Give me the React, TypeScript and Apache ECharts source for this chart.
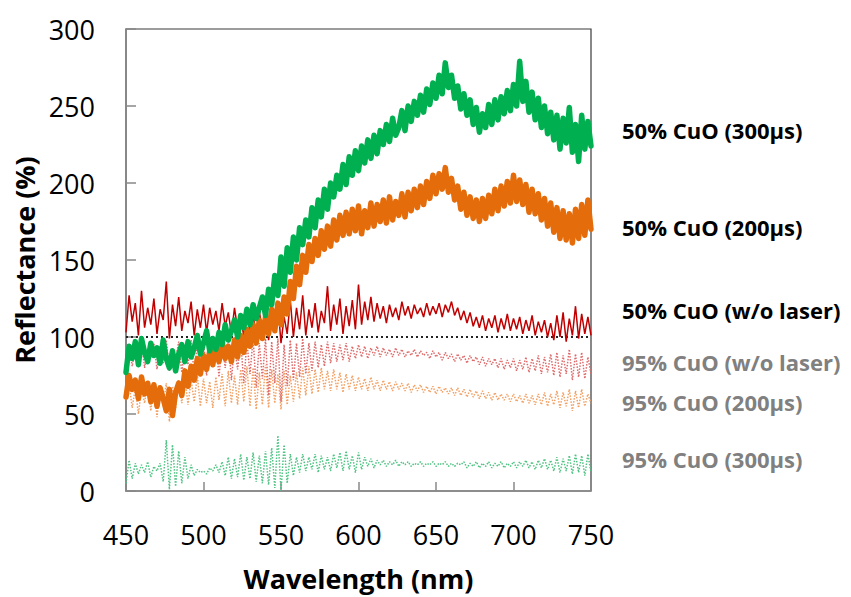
import React, { useEffect, useRef } from "react";
import * as echarts from "echarts";

const wavelengths = [
  450, 452, 454, 456, 458, 460, 462, 464, 466, 468, 470, 472, 474, 476, 478, 480, 482, 484, 486, 488,
  490, 492, 494, 496, 498, 500, 502, 504, 506, 508, 510, 512, 514, 516, 518, 520, 522, 524, 526, 528,
  530, 532, 534, 536, 538, 540, 542, 544, 546, 548, 550, 552, 554, 556, 558, 560, 562, 564, 566, 568,
  570, 572, 574, 576, 578, 580, 582, 584, 586, 588, 590, 592, 594, 596, 598, 600, 602, 604, 606, 608,
  610, 612, 614, 616, 618, 620, 622, 624, 626, 628, 630, 632, 634, 636, 638, 640, 642, 644, 646, 648,
  650, 652, 654, 656, 658, 660, 662, 664, 666, 668, 670, 672, 674, 676, 678, 680, 682, 684, 686, 688,
  690, 692, 694, 696, 698, 700, 702, 704, 706, 708, 710, 712, 714, 716, 718, 720, 722, 724, 726, 728,
  730, 732, 734, 736, 738, 740, 742, 744, 746, 748, 750,
];

const cuo50_300 = [
  77, 94, 86, 97, 82, 99, 90, 84, 96, 88, 93, 83, 98, 86, 80, 91, 78, 89, 95, 84,
  97, 87, 93, 101, 89, 96, 104, 91, 99, 92, 103, 95, 108, 98, 104, 111, 100, 114, 106, 118,
  108, 121, 112, 119, 126, 114, 131, 121, 140, 127, 152, 133, 158, 142, 165, 150, 171, 160, 176, 165,
  184, 171, 189, 178, 196, 183, 200, 191, 205, 196, 212, 199, 217, 205, 221, 208, 224, 213, 228, 216,
  231, 219, 234, 225, 238, 227, 242, 231, 236, 247, 234, 250, 240, 253, 244, 257, 246, 261, 251, 265,
  255, 270, 258, 278, 262, 270, 255, 263, 248, 258, 244, 254, 238, 249, 233, 245, 236, 251, 238, 254,
  241, 256, 245, 260, 247, 264, 250, 279, 253, 266, 246, 259, 241, 255, 236, 250, 232, 246, 228, 244,
  222, 242, 226, 249, 220, 238, 214, 244, 222, 240, 224,
];

const cuo50_200 = [
  61, 75, 66, 72, 60, 74, 63, 70, 58, 69, 55, 67, 60, 52, 66, 49, 64, 70, 62, 78,
  68, 81, 72, 86, 76, 88, 79, 91, 82, 95, 84, 97, 86, 94, 84, 98, 87, 101, 90, 105,
  94, 108, 96, 111, 99, 113, 102, 118, 104, 122, 108, 126, 115, 136, 125, 146, 134, 153, 142, 160,
  149, 164, 153, 169, 157, 172, 159, 176, 163, 179, 166, 181, 167, 183, 169, 185, 167, 182, 171, 187,
  172, 186, 175, 189, 174, 191, 176, 188, 179, 193, 178, 194, 182, 196, 184, 198, 186, 201, 190, 205,
  193, 206, 196, 210, 194, 203, 189, 198, 183, 194, 179, 191, 177, 189, 175, 190, 177, 192, 180, 196,
  182, 198, 185, 201, 187, 205, 188, 202, 186, 199, 181, 196, 180, 193, 176, 190, 172, 187, 168, 184,
  164, 182, 163, 180, 161, 183, 164, 186, 166, 189, 170,
];

const cuo50_noLaser = [
  103, 127, 110, 122, 101, 130, 106, 119, 108, 125, 102, 118, 111, 136, 99, 121, 107, 126, 104, 117,
  109, 123, 101, 118, 106, 121, 103, 119, 108, 117, 104, 122, 107, 116, 102, 119, 105, 114, 100, 118,
  104, 115, 99, 117, 103, 119, 98, 116, 105, 121, 96, 113, 102, 124, 100, 119, 105, 127, 101, 118,
  106, 122, 103, 117, 109, 133, 104, 121, 108, 125, 102, 120, 107, 124, 105, 134, 108, 123, 111, 126,
  110, 122, 112, 120, 109, 121, 113, 119, 111, 123, 114, 120, 112, 121, 115, 119, 113, 122, 114, 120,
  115, 122, 113, 121, 116, 123, 114, 119, 111, 117, 109, 116, 107, 113, 106, 114, 104, 112, 106, 114,
  103, 112, 105, 115, 104, 112, 105, 113, 102, 111, 104, 114, 101, 110, 103, 111, 100, 109, 98, 114,
  100, 116, 97, 112, 101, 120, 99, 115, 102, 113, 101,
];

const cuo95_noLaser = [
  85, 95, 81, 93, 84, 97, 80, 92, 86, 96, 79, 94, 83, 98, 78, 93, 85, 97, 77, 94,
  82, 98, 76, 95, 83, 97, 75, 94, 81, 98, 74, 96, 80, 99, 72, 95, 79, 98, 70, 97,
  76, 99, 67, 96, 73, 99, 62, 97, 70, 99, 58, 95, 68, 98, 72, 96, 74, 99, 76, 96,
  78, 97, 80, 95, 81, 97, 83, 96, 84, 95, 85, 96, 84, 94, 86, 95, 87, 94, 86, 93,
  88, 94, 87, 93, 88, 92, 87, 93, 88, 92, 87, 91, 88, 92, 87, 91, 88, 90, 86, 91,
  87, 90, 85, 90, 86, 89, 84, 89, 85, 88, 83, 88, 84, 87, 82, 87, 81, 86, 82, 86,
  80, 86, 79, 85, 80, 86, 78, 85, 79, 87, 77, 86, 78, 88, 76, 87, 77, 89, 75, 90,
  74, 88, 76, 92, 72, 89, 74, 90, 73, 87, 76,
];

const cuo95_200 = [
  59, 70, 54, 67, 50, 66, 57, 71, 52, 68, 48, 66, 55, 70, 45, 68, 54, 72, 57, 74,
  56, 72, 58, 75, 55, 73, 57, 71, 54, 74, 59, 76, 55, 78, 57, 75, 56, 79, 58, 81,
  55, 80, 53, 77, 56, 82, 54, 79, 57, 76, 53, 78, 56, 75, 58, 77, 60, 80, 62, 81,
  63, 79, 64, 80, 66, 78, 65, 79, 66, 77, 64, 76, 66, 75, 65, 74, 66, 73, 65, 74,
  66, 72, 65, 72, 66, 71, 65, 71, 66, 70, 65, 70, 64, 69, 65, 69, 64, 68, 64, 68,
  63, 68, 64, 67, 63, 67, 62, 67, 62, 66, 61, 66, 61, 65, 60, 65, 60, 64, 59, 64,
  59, 63, 59, 63, 58, 63, 58, 62, 57, 63, 57, 62, 56, 63, 56, 64, 55, 63, 56, 65,
  54, 64, 55, 66, 52, 65, 54, 66, 55, 63, 57,
];

const cuo95_300 = [
  5, 20, 8, 18, 11, 17, 12, 19, 9, 16, 13, 18, 6, 33, 1, 30, 3, 26, 5, 22,
  8, 17, 10, 14, 12, 13, 11, 15, 13, 17, 12, 19, 10, 22, 8, 21, 9, 24, 7, 22,
  8, 25, 6, 23, 5, 26, 4, 28, 2, 36, 0, 30, 5, 24, 10, 22, 12, 24, 13, 22,
  14, 24, 12, 23, 14, 22, 13, 24, 15, 25, 13, 26, 14, 23, 12, 25, 14, 22, 16, 21,
  15, 20, 17, 20, 16, 19, 17, 20, 16, 19, 17, 19, 16, 18, 17, 19, 16, 18, 17, 19,
  16, 18, 17, 19, 16, 18, 16, 18, 17, 19, 15, 18, 16, 19, 15, 18, 16, 19, 15, 18,
  16, 19, 15, 18, 16, 19, 15, 19, 16, 20, 15, 19, 14, 20, 15, 21, 14, 20, 13, 22,
  12, 21, 13, 23, 11, 24, 12, 23, 10, 24, 12,
];

const referenceX = [450, 750];
const referenceY = [100, 100];

const xTicks = [450, 500, 550, 600, 650, 700, 750];
const yTicks = [0, 50, 100, 150, 200, 250, 300];

const seriesLabels = [
  "50% CuO (300µs)",
  "50% CuO (200µs)",
  "50% CuO (w/o laser)",
  "95% CuO (w/o laser)",
  "95% CuO (200µs)",
  "95% CuO (300µs)",
];

const FONT = "'Open Sans', 'Noto Sans', sans-serif";

function pairs(vals: number[]) {
  return wavelengths.map((w, i) => [w, vals[i]]);
}

export default function App() {
  const ref = useRef<HTMLDivElement>(null);

  useEffect(() => {
    if (!ref.current) return;
    const chart = echarts.init(ref.current, null, { renderer: "svg" });

    const labelStyle = (text: string, y: number, color: string) => ({
      type: "text",
      left: 622,
      top: y - 14,
      style: {
        text,
        fill: color,
        font: `bold 22px ${FONT}`,
      },
    });

    chart.setOption({
      animation: false,
      backgroundColor: "#ffffff",
      grid: {
        left: 126,
        right: 260,
        top: 29,
        bottom: 106,
        show: true,
        borderColor: "#3a3a3a",
        borderWidth: 1.2,
        backgroundColor: "transparent",
      },
      xAxis: {
        type: "value",
        min: xTicks[0],
        max: xTicks[xTicks.length - 1],
        interval: 50,
        name: "Wavelength (nm)",
        nameLocation: "middle",
        nameGap: 74,
        nameTextStyle: { fontFamily: FONT, fontWeight: "bold", fontSize: 27, color: "#000" },
        axisLine: { show: true, lineStyle: { color: "#888888", width: 1.5 } },
        axisTick: { show: true, inside: true, length: 9, lineStyle: { color: "#888888", width: 1.5 } },
        axisLabel: { fontFamily: FONT, fontSize: 27, color: "#000", margin: 30 },
        splitLine: { show: false },
      },
      yAxis: {
        type: "value",
        min: yTicks[0],
        max: yTicks[yTicks.length - 1],
        interval: 50,
        name: "Reflectance (%)",
        nameLocation: "middle",
        nameGap: 86,
        nameRotate: 90,
        nameTextStyle: { fontFamily: FONT, fontWeight: "bold", fontSize: 27, color: "#000" },
        axisLine: { show: true, lineStyle: { color: "#888888", width: 1.5 } },
        axisTick: { show: true, inside: true, length: 10, lineStyle: { color: "#888888", width: 1.5 } },
        axisLabel: { fontFamily: FONT, fontSize: 27, color: "#000", margin: 31 },
        splitLine: { show: false },
      },
      series: [
        {
          name: seriesLabels[5],
          type: "line",
          data: pairs(cuo95_300),
          showSymbol: false,
          lineStyle: { color: "#4fc383", width: 1.5, type: "dotted" },
          z: 1,
        },
        {
          name: seriesLabels[4],
          type: "line",
          data: pairs(cuo95_200),
          showSymbol: false,
          lineStyle: { color: "#f2a063", width: 1.5, type: "dotted" },
          z: 2,
        },
        {
          name: seriesLabels[3],
          type: "line",
          data: pairs(cuo95_noLaser),
          showSymbol: false,
          lineStyle: { color: "#de6b6b", width: 1.5, type: "dotted" },
          z: 3,
        },
        {
          name: "reference",
          type: "line",
          data: referenceX.map((x, i) => [x, referenceY[i]]),
          showSymbol: false,
          lineStyle: { color: "#222222", width: 2, type: [2, 3] },
          z: 4,
        },
        {
          name: seriesLabels[2],
          type: "line",
          data: pairs(cuo50_noLaser),
          showSymbol: false,
          lineStyle: { color: "#c00000", width: 1.5 },
          z: 5,
        },
        {
          name: seriesLabels[1],
          type: "line",
          data: pairs(cuo50_200),
          showSymbol: false,
          lineStyle: { color: "#e46c0a", width: 5.5, join: "round", cap: "round" },
          z: 6,
        },
        {
          name: seriesLabels[0],
          type: "line",
          data: pairs(cuo50_300),
          showSymbol: false,
          lineStyle: { color: "#00b050", width: 5.5, join: "round", cap: "round" },
          z: 7,
        },
      ],
      graphic: [
        labelStyle(seriesLabels[0], 133, "#000000"),
        labelStyle(seriesLabels[1], 230, "#000000"),
        labelStyle(seriesLabels[2], 313, "#000000"),
        labelStyle(seriesLabels[3], 365, "#808080"),
        labelStyle(seriesLabels[4], 405, "#808080"),
        labelStyle(seriesLabels[5], 462, "#808080"),
      ],
    });

    return () => chart.dispose();
  }, []);

  return (
    <div
      ref={ref}
      style={{ position: "fixed", left: 0, top: 0, width: 851, height: 597, background: "#fff" }}
    />
  );
}
